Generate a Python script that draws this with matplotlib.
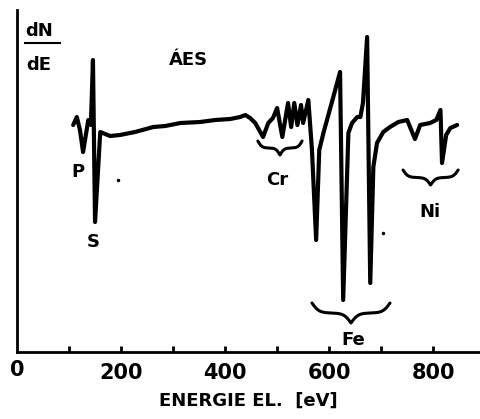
import numpy as np
import matplotlib
matplotlib.use("Agg")
import matplotlib.pyplot as plt

# AES spectrum (energy in eV, dN/dE in arbitrary units)
energy = [108, 115, 121, 127, 137, 142, 146, 150, 160, 179, 198, 227, 262, 285, 314,
          352, 381, 410, 429, 439, 448, 458, 473, 483, 492, 500, 510, 521, 527, 533,
          539, 546, 550, 560, 567, 575, 581, 589, 608, 621, 627, 637, 644, 654, 660,
          665, 673, 679, 685, 692, 704, 717, 733, 750, 765, 775, 794, 806, 814, 817,
          825, 833, 846]
signal = [227, 235, 222, 200, 232, 227, 292, 130, 220, 216, 217, 220, 225, 226, 229,
          230, 232, 233, 235, 237, 234, 229, 215, 229, 234, 244, 215, 249, 225, 249,
          227, 247, 229, 252, 202, 112, 202, 219, 255, 280, 52, 219, 229, 235, 235,
          249, 315, 69, 185, 209, 220, 225, 230, 232, 213, 227, 229, 232, 242, 189,
          217, 224, 227]

x_ticks = [100, 200, 300, 400, 500, 600, 700, 800]
x_labels = ["", "200", "", "400", "", "600", "", "800"]

# element groups: label, brace start, brace end, brace top, brace depth, label x, label y
elements = ["Cr", "Fe", "Ni"]
brace_x0 = [463, 567, 742]
brace_x1 = [548, 717, 848]
brace_top = [211, 49, 182]
brace_h = [14, 20, 15]
label_x = [500, 646, 794]
label_y = [172, 12, 140]

plt.rcParams['font.family'] = ['DejaVu Sans']
fig = plt.figure(figsize=(4.8, 4.19), dpi=100)
ax = fig.add_axes([17 / 480, 67 / 419, 463 / 480, 342 / 419])
ax.plot(energy, signal, color='black', lw=3, solid_joinstyle='round', solid_capstyle='round')
ax.set_xlim(0, 890)
ax.set_ylim(0, 342)

for side in ['top', 'right']:
    ax.spines[side].set_visible(False)
for side in ['left', 'bottom']:
    ax.spines[side].set_linewidth(2)
ax.set_yticks([])
ax.set_xticks(x_ticks)
ax.set_xticklabels(x_labels)
ax.tick_params(axis='x', direction='in', length=4, width=2, pad=8,
               labelsize=15)
for lab in ax.get_xticklabels():
    lab.set_fontweight('bold')
ax.text(0, -8, "0", ha='center', va='top', fontsize=15, fontweight='bold')
ax.set_xlabel("ENERGIE EL.  [eV]", fontsize=13, fontweight='bold', labelpad=6)


def brace(x0, x1, top, h):
    # curly brace opening upwards, tip pointing down in the middle
    half = (x1 - x0) / 2
    t = np.linspace(0, half, 80)
    beta = 11 / half
    s = 1 / (1 + np.exp(-beta * (t - t[0]))) + 1 / (1 + np.exp(-beta * (t - t[-1])))
    s = np.concatenate([s, s[-2::-1]]) - 0.5
    xs = np.linspace(x0, x1, len(s))
    ax.plot(xs, top - h * s, color='black', lw=2.2, solid_capstyle='round')


for name, a, b, top, h, lx, ly in zip(elements, brace_x0, brace_x1, brace_top, brace_h,
                                      label_x, label_y):
    brace(a, b, top, h)
    ax.text(lx, ly, name, ha='center', va='center', fontsize=13, fontweight='bold')

ax.text(117, 180, "P", ha='center', va='center', fontsize=13, fontweight='bold')
ax.text(146, 110, "S", ha='center', va='center', fontsize=13, fontweight='bold')
ax.text(329, 292, "ÁES", ha='center', va='center', fontsize=13, fontweight='bold')
ax.text(42, 321, "dN", ha='center', va='center', fontsize=13, fontweight='bold')
ax.plot([15, 83], [309, 309], color='black', lw=1.5)
ax.text(42, 287, "dE", ha='center', va='center', fontsize=13, fontweight='bold')
ax.plot([194, 704], [172, 119], 'k.', ms=3, ls='none')

fig.savefig("out.png", dpi=100)
